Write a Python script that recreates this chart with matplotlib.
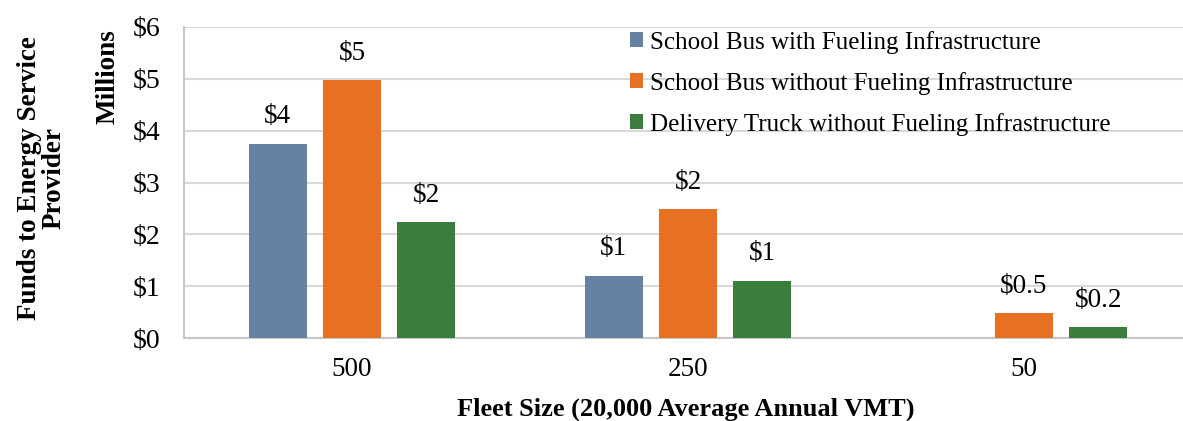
import numpy as np
import matplotlib.pyplot as plt

plt.rcParams['font.family'] = ['Liberation Serif', 'DejaVu Serif']

categories = ["500", "250", "50"]
series = ["School Bus with Fueling Infrastructure",
          "School Bus without Fueling Infrastructure",
          "Delivery Truck without Fueling Infrastructure"]
bus_with = [3.75, 1.2, 0.0]
bus_without = [4.97, 2.48, 0.48]
truck_without = [2.23, 1.1, 0.21]
labels_with = ["$4", "$1", ""]
labels_without = ["$5", "$2", "$0.5"]
labels_truck = ["$2", "$1", "$0.2"]
ticks = [0, 1, 2, 3, 4, 5, 6]
colors = ["#6682a3", "#e87022", "#3a7d3d"]

fig = plt.figure(figsize=(11.83, 4.21), dpi=100)
ax = fig.add_axes([184/1183, 1 - 338/421, 1008/1183, 311/421])

x = np.arange(len(categories))
width = 0.173
step = 0.221
values = [bus_with, bus_without, truck_without]
labels = [labels_with, labels_without, labels_truck]
for i, (vals, labs) in enumerate(zip(values, labels)):
    pos = x + (i - 1)*step
    ax.bar(pos, vals, width, color=colors[i], label=series[i], zorder=3)
    for p, v, t in zip(pos, vals, labs):
        if t:
            ax.annotate(t.replace("$", r"\$"), (p, v), xytext=(0, 19.5),
                        textcoords="offset points", ha="center", va="center",
                        fontsize=19.5)

ax.set_xlim(-0.5, 2.5)
ax.set_ylim(0, 6)
ax.set_yticks(ticks)
ax.set_yticklabels([r"\$%d" % t for t in ticks], fontsize=20)
ax.set_xticks(x)
ax.set_xticklabels(categories, fontsize=19.5)
ax.tick_params(axis="y", length=0, pad=17)
ax.tick_params(axis="x", length=0, pad=14)
ax.grid(axis="y", color="#d9d9d9", linewidth=1.5, zorder=0)
for s in ["top", "right"]:
    ax.spines[s].set_visible(False)
ax.spines["left"].set_color("#c8c8c8")
ax.spines["bottom"].set_color("#c8c8c8")
ax.spines["left"].set_linewidth(1.5)
ax.spines["bottom"].set_linewidth(1.5)

fig.text(686/1183, 1 - 409/421, "Fleet Size (20,000 Average Annual VMT)",
         ha="center", va="center", fontsize=19, fontweight="bold")
fig.text(108/1183, 1 - 77/421, "Millions", rotation=90, ha="center",
         va="center", fontsize=19.5, fontweight="bold")
fig.text(42/1183, 1 - 178/421, "Funds to Energy Service\nProvider",
         rotation=90, ha="center", va="center", fontsize=19.5,
         fontweight="bold", linespacing=0.95)

leg = ax.legend(loc="upper left", bbox_to_anchor=(0.442, 0.988), frameon=False,
                fontsize=18, handlelength=0.55, handleheight=0.55,
                handletextpad=0.28, labelspacing=0.72, borderaxespad=0,
                borderpad=0)

fig.savefig("out.png", dpi=100)
